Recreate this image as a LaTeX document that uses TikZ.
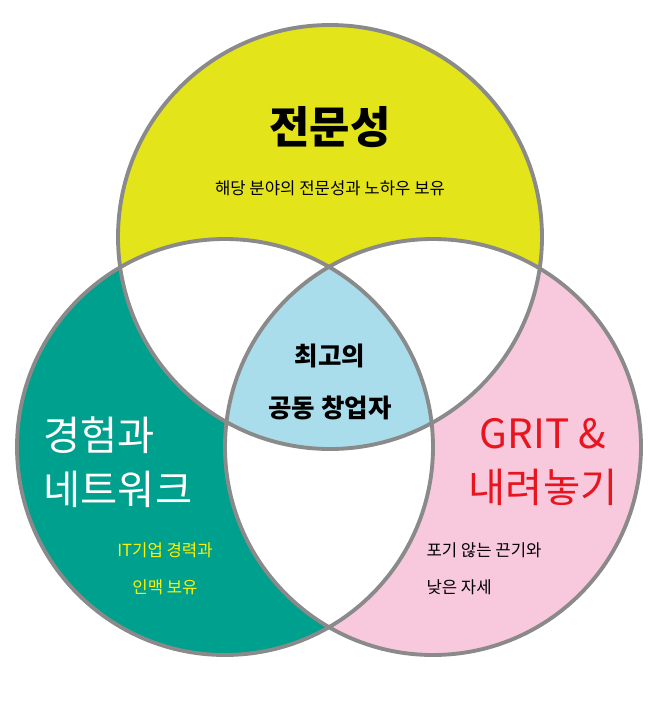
\documentclass[tikz,border=0pt]{standalone}
\usepackage{fontspec}
\setmainfont{Noto Sans CJK KR}
\definecolor{topyellow}{HTML}{E4E41A}
\definecolor{leftteal}{HTML}{00A08E}
\definecolor{rightpink}{HTML}{F8C9DD}
\definecolor{midblue}{HTML}{A9DDEC}
\definecolor{ringgray}{HTML}{8A8A8A}
\definecolor{gritred}{HTML}{E8141E}
\begin{document}
\begin{tikzpicture}[x=0.02cm,y=-0.02cm]
\tikzset{
  ring/.style={draw=ringgray,line width=2.2pt},
  title/.style={font=\fontsize{23}{31}\selectfont,align=center},
  note/.style={font=\fontsize{9.5}{21}\selectfont,align=center}
}
\useasboundingbox (0,0) rectangle (650,704);
\def\topc{(330,237) circle (212)}
\def\leftc{(225,447) circle (208)}
\def\rightc{(433,447) circle (208)}
% base fills
\fill[topyellow] \topc;
\fill[leftteal] \leftc;
\fill[rightpink] \rightc;
% pairwise overlaps
\begin{scope}\clip \topc; \fill[white] \leftc; \fill[white] \rightc;\end{scope}
\begin{scope}\clip \leftc; \fill[white] \rightc;\end{scope}
% common centre
\begin{scope}\clip \topc; \clip \leftc; \fill[midblue] \rightc;\end{scope}
\draw[ring] \topc;
\draw[ring] \leftc;
\draw[ring] \rightc;
% texts
\node[title,font=\fontsize{25}{30}\selectfont\bfseries] (expert) at (330,127) {전문성};
\node[note] (expertnote) at (330,188) {해당 분야의 전문성과 노하우 보유};
\node[align=center,font=\fontsize{14.5}{30}\selectfont\bfseries] (cofounder) at (330,382) {최고의\\공동 창업자};
\node[title,white,align=left] (network) at (118,462) {경험과\\네트워크};
\node[note,yellow] (networknote) at (165,569) {IT기업 경력과\\인맥 보유};
\node[title,gritred] (grit) at (543,462) {GRIT \&\\내려놓기};
\node[note,align=left] (gritnote) at (484,569) {포기 않는 끈기와\\낮은 자세};
\end{tikzpicture}
\end{document}
